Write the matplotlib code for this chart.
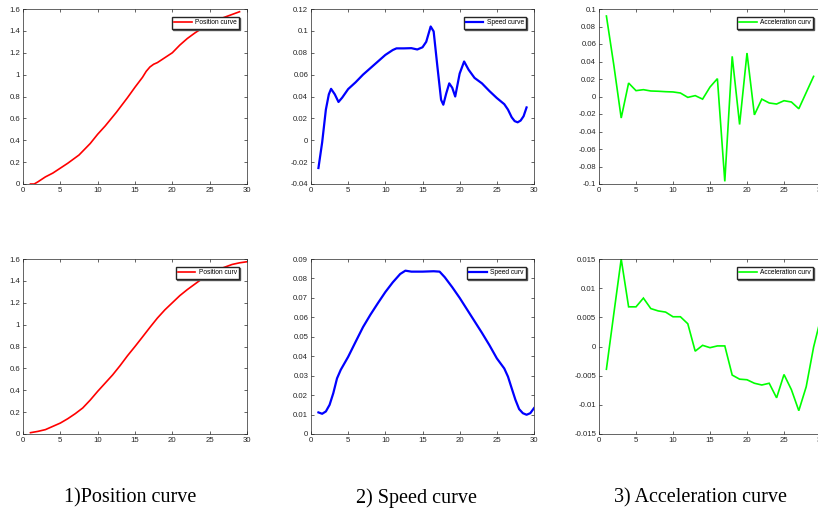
import matplotlib
matplotlib.use("Agg")
import matplotlib.pyplot as plt
from matplotlib.ticker import FuncFormatter, MultipleLocator

plt.rcParams["font.family"] = ["Liberation Sans", "DejaVu Sans"]

# --- top row (measured) ---
pos1_x = [1, 1.5, 2, 3, 4, 5, 6, 7.5, 9, 10, 11, 12.5, 14, 15, 16, 16.5, 17, 17.5, 18, 19, 20, 20.5,
          21, 22, 23, 24, 25, 26, 27, 28, 29]
pos1_y = [0.0, 0.0, 0.02, 0.065, 0.1, 0.145, 0.19, 0.265, 0.37, 0.455, 0.53, 0.655, 0.79, 0.885,
          0.975, 1.03, 1.07, 1.095, 1.11, 1.155, 1.2, 1.235, 1.27, 1.33, 1.38, 1.425, 1.47, 1.5,
          1.525, 1.55, 1.575]

spd1_x = [1, 1.5, 2, 2.4, 2.7, 3.2, 3.7, 4.2, 5, 6, 7, 8, 9, 10, 11, 11.5, 12.5, 13.5, 14.3, 15,
          15.5, 16.1, 16.5, 17, 17.5, 17.8, 18.2, 18.6, 19, 19.4, 20, 20.6, 21.2, 22, 23, 24, 25,
          26, 26.5, 27, 27.4, 27.8, 28.2, 28.6, 29]
spd1_y = [-0.0254, -0.002, 0.028, 0.042, 0.047, 0.042, 0.035, 0.039, 0.0468, 0.053, 0.06, 0.066,
          0.072, 0.078, 0.0825, 0.084, 0.084, 0.0842, 0.083, 0.085, 0.09, 0.104, 0.0995, 0.0676,
          0.037, 0.0325, 0.043, 0.052, 0.048, 0.040, 0.061, 0.072, 0.0645, 0.057, 0.052, 0.045,
          0.0386, 0.033, 0.028, 0.021, 0.0175, 0.0164, 0.018, 0.022, 0.030]

acc1_x = list(range(1, 30))
acc1_y = [0.092, 0.036, -0.0246, 0.0154, 0.0067, 0.0078, 0.0063, 0.006, 0.0055, 0.0052, 0.004,
          -0.001, 0.001, -0.003, 0.0108, 0.0204, -0.097, 0.0459, -0.032, 0.0497, -0.021, -0.003,
          -0.0074, -0.0086, -0.0048, -0.0063, -0.014, 0.0045, 0.023]

# --- bottom row (smoothed) ---
pos2_x = [1, 2, 3, 4, 5, 6, 7, 8, 9, 10, 11, 12, 13, 14, 15, 16, 17, 18, 19, 20, 21, 22, 23, 24,
          25, 26, 27, 28, 29, 30]
pos2_y = [0.012, 0.024, 0.04, 0.07, 0.10, 0.14, 0.186, 0.238, 0.31, 0.39, 0.465, 0.54, 0.625,
          0.716, 0.80, 0.887, 0.975, 1.06, 1.135, 1.2, 1.265, 1.32, 1.37, 1.42, 1.46, 1.50, 1.525,
          1.55, 1.565, 1.575]

spd2_x = [1, 1.5, 2, 2.5, 3, 3.5, 4, 5, 6, 7, 8, 9, 10, 11, 12, 12.7, 13.5, 15, 16.5, 17.3, 18,
          19, 20, 21, 22, 23, 24, 25, 26, 26.5, 27, 27.5, 28, 28.5, 29, 29.5, 30]
spd2_y = [0.0111, 0.0104, 0.0116, 0.015, 0.021, 0.0286, 0.033, 0.0397, 0.0474, 0.055, 0.0614,
          0.0673, 0.073, 0.078, 0.0823, 0.084, 0.0835, 0.0835, 0.0837, 0.0835, 0.0806, 0.0755,
          0.070, 0.064, 0.058, 0.052, 0.0457, 0.0389, 0.0337, 0.0295, 0.0235, 0.0176, 0.0128,
          0.0107, 0.0099, 0.0107, 0.0133]

acc2_x = list(range(1, 31))
acc2_y = [-0.0039, 0.0056, 0.015, 0.0068, 0.0068, 0.0083, 0.0065, 0.0061, 0.0059, 0.0051, 0.0051,
          0.0039, -0.0008, 0.0002, -0.0002, 0.0001, 0.0001, -0.0049, -0.0056, -0.0057, -0.0063,
          -0.0066, -0.0063, -0.0088, -0.0048, -0.0074, -0.011, -0.0069, -0.0001, 0.005]

captions = ["1)Position curve", "2) Speed curve", "3) Acceleration curve"]

dark = "#262626"


def fmt(v, _):
    # MATLAB style tick labels, no "-0"
    return "%g" % (round(v, 6) + 0.0)


def setup(ax, ylim, ystep):
    ax.set_xlim(0, 30)
    ax.set_ylim(*ylim)
    ax.xaxis.set_major_locator(MultipleLocator(5))
    ax.yaxis.set_major_locator(MultipleLocator(ystep))
    ax.xaxis.set_major_formatter(FuncFormatter(fmt))
    ax.yaxis.set_major_formatter(FuncFormatter(fmt))
    ax.tick_params(direction="in", top=True, right=True, length=2.5, width=0.5,
                   labelsize=5.6, colors=dark, pad=2)
    for s in ax.spines.values():
        s.set_linewidth(0.5)
        s.set_color(dark)


def add_legend(ax, label):
    ax.legend([label], loc="upper right", fontsize=4.8, handlelength=2.6,
              handletextpad=0.5, borderpad=0.35, fancybox=False, framealpha=1,
              edgecolor=dark, borderaxespad=1.2,
              shadow={"ox": 0.8, "oy": -0.8, "facecolor": "0.35", "edgecolor": "0.35", "alpha": 1})


fig = plt.figure(figsize=(8.18, 5.12), dpi=100)

lefts = [23 / 818, 311 / 818, 599 / 818]
widths = [224 / 818, 223 / 818, 222 / 818]
h = 175 / 512
bottoms = [1 - 184 / 512, 1 - 434 / 512]

rows = [
    [(pos1_x, pos1_y, "r", (0, 1.6), 0.2, "Position curve"),
     (spd1_x, spd1_y, "b", (-0.04, 0.12), 0.02, "Speed curve"),
     (acc1_x, acc1_y, "#00ff00", (-0.1, 0.1), 0.02, "Acceleration curv")],
    [(pos2_x, pos2_y, "r", (0, 1.6), 0.2, "Position curv"),
     (spd2_x, spd2_y, "b", (0, 0.09), 0.01, "Speed curv"),
     (acc2_x, acc2_y, "#00ff00", (-0.015, 0.015), 0.005, "Acceleration curv")],
]

for r, row in enumerate(rows):
    for c, (xs, ys, col, ylim, step, label) in enumerate(row):
        ax = fig.add_axes([lefts[c], bottoms[r], widths[c], h])
        smooth = c < 2
        ax.plot(xs, ys, color=col, lw=1.6 if c == 1 else 1.2,
                solid_joinstyle="round" if smooth else "miter")
        setup(ax, ylim, step)
        add_legend(ax, label)

cx = [130 / 818, 416 / 818, 701 / 818]
for x, t in zip(cx, captions):
    fig.text(x, 1 - 498 / 512, t, ha="center", va="center", fontsize=14.5,
             family="Liberation Serif", color="black")

fig.savefig("out.png", dpi=100)
